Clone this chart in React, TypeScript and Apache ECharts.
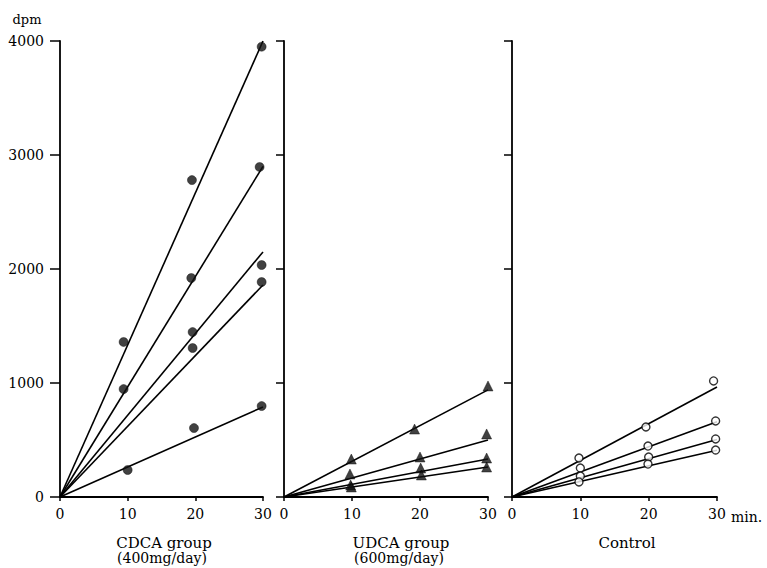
import React, { useEffect, useRef } from "react";
import * as echarts from "echarts";

// x tick labels / y tick labels
const X_TICKS = [0, 10, 20, 30];
const Y_TICKS = [0, 1000, 2000, 3000, 4000];

// CDCA group: observed points [min, dpm]
const CDCA_POINTS = [
  [9.4, 1360], [19.5, 2780], [29.8, 3950],
  [9.4, 947], [19.4, 1921], [29.5, 2895],
  [19.6, 1447], [29.8, 2035],
  [19.6, 1307], [29.8, 1886],
  [10.0, 237], [19.8, 605], [29.8, 798],
];
// CDCA regression line values at 30 min
const CDCA_LINE_ENDS = [4000, 2900, 2150, 1860, 790];

// UDCA group
const UDCA_POINTS = [
  [9.9, 333], [19.2, 596], [30.0, 974],
  [9.7, 202], [20.0, 351], [29.8, 553],
  [9.8, 105], [20.1, 254], [29.8, 342],
  [9.9, 88], [20.2, 193], [29.8, 263],
];
const UDCA_LINE_ENDS = [940, 500, 333, 263];

// Control
const CONTROL_POINTS = [
  [9.8, 342], [19.6, 614], [29.5, 1018],
  [10.0, 254], [19.9, 447], [29.8, 667],
  [10.0, 184], [20.0, 351], [29.8, 509],
  [9.8, 132], [19.9, 289], [29.8, 412],
];
const CONTROL_LINE_ENDS = [965, 660, 505, 410];

const FONT = "DejaVu Serif";

export default function App() {
  const ref = useRef<HTMLDivElement>(null);
  useEffect(() => {
    document.body.style.margin = "0";
    if (!ref.current) return;
    const chart = echarts.init(ref.current, null, { renderer: "svg" });
    const grids = [
      { left: 60, top: 41, width: 203, height: 456 },
      { left: 284, top: 41, width: 204, height: 456 },
      { left: 512, top: 41, width: 205, height: 456 },
    ];
    const axisLine = { show: true, lineStyle: { color: "#000", width: 1.8 } };
    const xAxes = grids.map((_, i) => ({
      type: "value",
      gridIndex: i,
      min: X_TICKS[0],
      max: X_TICKS[X_TICKS.length - 1],
      interval: 10,
      axisLine: { ...axisLine, onZero: false },
      axisTick: { show: true, length: 4, lineStyle: { color: "#000", width: 1.5 } },
      axisLabel: { color: "#000", fontFamily: FONT, fontSize: 14, margin: 10 },
      splitLine: { show: false },
    }));
    const yAxes = grids.map((_, i) => ({
      type: "value",
      gridIndex: i,
      min: Y_TICKS[0],
      max: Y_TICKS[Y_TICKS.length - 1],
      interval: 1000,
      axisLine: { ...axisLine, onZero: false },
      axisTick: { show: true, length: i === 0 ? 10 : 8, lineStyle: { color: "#000", width: 1.5 } },
      axisLabel: {
        show: i === 0,
        color: "#000",
        fontFamily: FONT,
        fontSize: 14,
        margin: 16,
        formatter: (v: number) => String(v),
      },
      splitLine: { show: false },
    }));
    const lineSeries = (ends: number[], idx: number) =>
      ends.map((v) => ({
        type: "line",
        xAxisIndex: idx,
        yAxisIndex: idx,
        data: [[0, 0], [30, v]],
        symbol: "none",
        lineStyle: { color: "#000", width: 1.6 },
        silent: true,
      }));
    const scatter = (pts: number[][], idx: number, symbol: string, size: number, filled: boolean) => ({
      type: "scatter",
      xAxisIndex: idx,
      yAxisIndex: idx,
      data: pts,
      symbol,
      symbolSize: size,
      itemStyle: filled
        ? { color: "#111", borderColor: "#000", borderWidth: 0.5 }
        : { color: "#fff", borderColor: "#000", borderWidth: 1.4 },
      z: 5,
    });
    const txt = (cx: number, top: number, text: string, size = 15) => ({
      type: "text",
      x: cx,
      y: top,
      style: { text, fill: "#000", fontFamily: FONT, fontSize: size, align: "center", verticalAlign: "top" },
    });
    chart.setOption({
      animation: false,
      textStyle: { fontFamily: FONT },
      grid: grids,
      xAxis: xAxes,
      yAxis: yAxes,
      series: [
        ...lineSeries(CDCA_LINE_ENDS, 0),
        ...lineSeries(UDCA_LINE_ENDS, 1),
        ...lineSeries(CONTROL_LINE_ENDS, 2),
        scatter(CDCA_POINTS, 0, "circle", 9, true),
        scatter(UDCA_POINTS, 1, "triangle", 10, true),
        scatter(CONTROL_POINTS, 2, "circle", 8, false),
      ],
      graphic: [
        txt(27, 13, "dpm", 13),
        { type: "text", x: 731, y: 510, style: { text: "min.", fill: "#000", fontFamily: FONT, fontSize: 14, verticalAlign: "top" } },
        txt(164, 535, "CDCA group", 15),
        txt(162, 551, "(400mg/day)", 14),
        txt(401, 535, "UDCA group", 15),
        txt(399, 551, "(600mg/day)", 14),
        txt(627, 535, "Control", 15),
      ],
    });
    return () => chart.dispose();
  }, []);
  return <div ref={ref} style={{ width: 767, height: 568 }} />;
}
